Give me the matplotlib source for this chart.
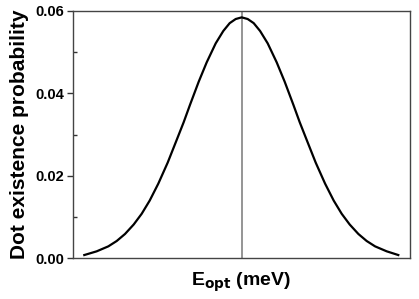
import matplotlib
matplotlib.use("Agg")
import matplotlib.pyplot as plt
from matplotlib.ticker import MultipleLocator

plt.rcParams['font.family'] = ['Liberation Sans', 'DejaVu Sans']
plt.rcParams['font.weight'] = 'bold'

# values (x in arbitrary units, centre = E_opt)
energy = [-1.574, -1.45, -1.334, -1.25, -1.167, -1.08, -1.0, -0.92, -0.834,
          -0.74, -0.65, -0.58, -0.517, -0.43, -0.35, -0.26, -0.184, -0.12,
          -0.06, 0.0, 0.06, 0.12, 0.184, 0.26, 0.35, 0.43, 0.517, 0.58,
          0.65, 0.74, 0.834, 0.92, 1.0, 1.08, 1.167, 1.25, 1.334, 1.45, 1.566]
probability = [0.0008, 0.0017, 0.0029, 0.0042, 0.0059, 0.0082, 0.0108,
               0.0140, 0.0181, 0.0232, 0.0287, 0.0330, 0.0372, 0.0428,
               0.0475, 0.0521, 0.0551, 0.0570, 0.0580, 0.0584, 0.0580,
               0.0570, 0.0551, 0.0521, 0.0475, 0.0428, 0.0372, 0.0330,
               0.0287, 0.0232, 0.0181, 0.0140, 0.0108, 0.0082, 0.0059,
               0.0042, 0.0029, 0.0017, 0.0008]
e_opt = 0.0
yticks = [0.00, 0.02, 0.04, 0.06]

fig = plt.figure(figsize=(4.19, 2.99), dpi=100)
ax = fig.add_axes([0.1735, 0.136, 0.805, 0.828])

ax.axvline(e_opt, color='#8c8c8c', lw=1.3)
ax.plot(energy, probability, color='black', lw=1.6)

ax.set_xlim(-1.69, 1.683)
ax.set_ylim(0, 0.06)
ax.set_xticks([])
ax.set_yticks(yticks)
ax.set_yticklabels(['%.2f' % v for v in yticks])
ax.yaxis.set_minor_locator(MultipleLocator(0.01))
ax.tick_params(axis='y', which='major', direction='out', length=4, width=1,
               labelsize=10.5, color='#333333', pad=2)
ax.tick_params(axis='y', which='minor', direction='in', length=3, width=1,
               color='#333333')
for s in ax.spines.values():
    s.set_color('#444444')
    s.set_linewidth(1.0)

ax.set_ylabel('Dot existence probability', fontsize=15, fontweight='bold',
              labelpad=5)
ax.set_xlabel(r'E$_{\mathbf{opt}}$ (meV)', fontsize=14, fontweight='bold',
              labelpad=9)

fig.savefig('out.png', dpi=100)
